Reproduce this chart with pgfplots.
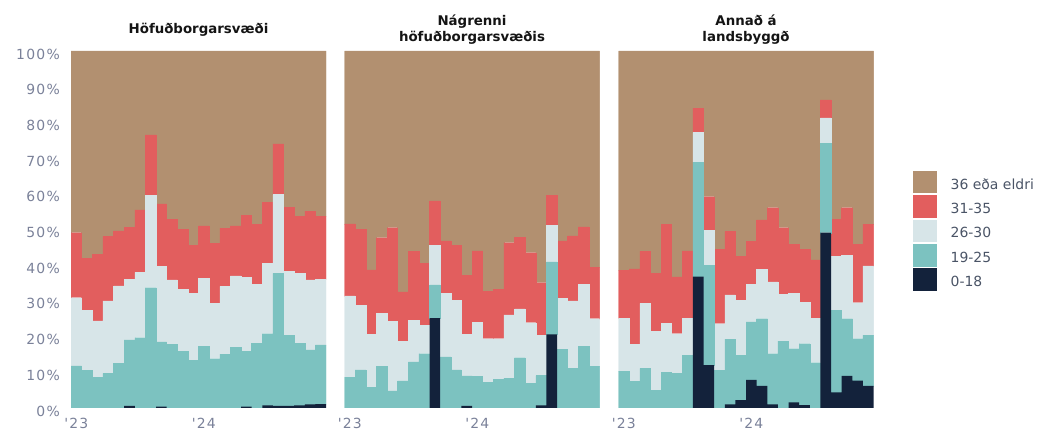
\documentclass[border=0pt]{standalone}
\usepackage{pgfplots}
\pgfplotsset{compat=1.18}
\usepackage{pgfplotstable}
\usepackage{fontspec}
\newfontfamily\dv{DejaVu Sans}
\newfontfamily\dvt{DejaVu Sans}[LetterSpace=9]
\definecolor{cBrown}{HTML}{B29070}
\definecolor{cRed}{HTML}{E25E5E}
\definecolor{cLight}{HTML}{D7E5E8}
\definecolor{cTeal}{HTML}{7CC2C0}
\definecolor{cDark}{HTML}{13223B}
\definecolor{cTick}{HTML}{7A8199}
\definecolor{cLeg}{HTML}{4A5466}

% columns: month index, 0-18, 19-25, 26-30, 31-35, 36 eda eldri (percent)
\pgfplotstableread{
x d t l r b
1 0 11.8 19.1 18.2 50.9
2 0 10.6 16.7 14.7 58.0
3 0 8.6 15.8 18.7 56.9
4 0 9.7 20.3 18.0 52.0
5 0 12.6 21.6 15.4 50.4
6 0.6 18.5 16.9 14.6 49.4
7 0 19.7 18.3 17.5 44.5
8 0 33.7 25.8 17.0 23.5
9 0.4 18.1 21.1 17.6 42.8
10 0 17.8 18.1 16.9 47.2
11 0 15.9 17.3 16.8 50.0
12 0 13.4 18.8 13.3 54.5
13 0 17.3 19.1 14.6 49.0
14 0 13.8 15.5 16.9 53.8
15 0 15.1 19.0 16.3 49.6
16 0 17.0 20.0 14.0 49.0
17 0.4 15.5 20.7 17.3 46.1
18 0 18.2 16.4 16.8 48.6
19 0.7 20.1 19.8 17.1 42.3
20 0.6 37.1 22.1 14.2 26.0
21 0.6 19.8 17.8 18.0 43.8
22 0.7 17.4 19.6 16.0 46.3
23 1.0 15.3 19.6 19.2 44.9
24 1.1 16.6 18.4 17.5 46.4
}\tabA

\pgfplotstableread{
x d t l r b
1 0 8.6 22.8 20.2 48.4
2 0 10.7 18.1 21.3 49.9
3 0 5.7 15.0 18.0 61.3
4 0 11.6 14.9 21.2 52.3
5 0 4.8 19.4 26.3 49.5
6 0 7.6 11.0 13.9 67.5
7 0 12.9 11.6 19.4 56.1
8 0 15.2 7.9 17.4 59.5
9 25.2 9.3 11.1 12.4 42.0
10 0 14.3 17.8 14.7 53.2
11 0 10.7 19.5 15.4 54.4
12 0.6 8.4 11.7 16.4 62.9
13 0 8.8 15.2 20.0 56.0
14 0 7.2 12.2 13.3 67.3
15 0 8.0 11.4 13.9 66.7
16 0 8.4 17.7 20.2 53.7
17 0 14.1 13.7 20.0 52.2
18 0 7.0 16.9 19.6 56.5
19 0.7 8.4 11.3 14.7 64.9
20 20.6 20.3 10.3 8.3 40.5
21 0 16.4 14.3 16.1 53.2
22 0 11.2 18.8 18.2 51.8
23 0 17.3 17.4 16.0 49.3
24 0 11.7 13.3 14.4 60.6
}\tabB

\pgfplotstableread{
x d t l r b
1 0 10.3 14.9 13.3 61.5
2 0 7.4 10.5 21.1 61.0
3 0 11.1 18.2 14.6 56.1
4 0 5.0 16.5 16.3 62.2
5 0 10.0 13.8 27.7 48.5
6 0 9.7 11.1 15.9 63.3
7 0 14.8 10.4 18.8 56.0
8 36.8 32.0 8.4 6.8 16.0
9 12.0 28.0 9.8 9.4 40.8
10 0 10.5 13.1 20.8 55.6
11 1.0 18.3 12.4 17.7 50.6
12 2.2 12.6 15.3 12.4 57.5
13 7.9 16.2 10.5 12.1 53.3
14 6.2 18.8 13.8 13.9 47.3
15 1.0 14.2 20.1 20.8 43.9
16 0 18.7 13.2 18.6 49.5
17 1.6 15.0 15.5 13.7 54.2
18 0.8 17.2 11.6 14.9 55.5
19 0 12.7 12.4 16.4 58.5
20 49.1 25.0 7.2 5.0 13.7
21 4.4 22.9 15.1 10.5 47.1
22 9.0 16.0 17.8 13.3 43.9
23 7.7 11.7 10.1 16.3 54.2
24 6.2 14.2 19.4 11.6 48.6
}\tabC

\pgfplotsset{
  panel/.style={
    scale only axis, width=255bp, height=357bp,
    anchor=south west,
    ymin=0, ymax=100, xmin=0.5, xmax=24.5,
    ybar stacked, bar width=1,
    axis line style={draw=none},
    major tick length=0pt, tick style={draw=none},
    xtick={1,13}, xticklabels={'23,'24},
    ytick={0,10,...,100},
    ticklabel style={font=\dvt\fontsize{14}{16}\selectfont, text=cTick},
    xticklabel style={anchor=north, inner sep=0pt, yshift=-10bp},
    yticklabel style={anchor=east, inner sep=0pt, xshift=-11bp, yshift=-3bp},
    title style={font=\dv\bfseries\fontsize{13.4}{15.5}\selectfont, text=black!92,
      align=center, anchor=center, at={(0.5,1)}, yshift=15.5bp},
    legend image code/.code={\path[#1,draw=white,line width=0.8bp] (0bp,-9.3bp) rectangle (25.4bp,14.3bp);},
  },
  sD/.style={fill=cDark, draw=none},
  sT/.style={fill=cTeal, draw=cTeal, line width=0.3bp},
  sL/.style={fill=cLight, draw=cLight, line width=0.3bp},
  sR/.style={fill=cRed, draw=cRed, line width=0.3bp},
  sB/.style={fill=cBrown, draw=cBrown, line width=0.3bp},
}

\begin{document}
\begin{tikzpicture}
\useasboundingbox (0,0) rectangle (1041bp,432bp);

\begin{axis}[panel, at={(71bp,24bp)},
  yticklabels={0\%,10\%,20\%,30\%,40\%,50\%,60\%,70\%,80\%,90\%,100\%},
  title={Höfuðborgarsvæði}]
\addplot[sD] table[x=x,y=d]{\tabA};
\addplot[sT] table[x=x,y=t]{\tabA};
\addplot[sL] table[x=x,y=l]{\tabA};
\addplot[sR] table[x=x,y=r]{\tabA};
\addplot[sB] table[x=x,y=b]{\tabA};
\end{axis}

\begin{axis}[panel, at={(344.5bp,24bp)}, yticklabels={},
  title={Nágrenni\\höfuðborgarsvæðis}]
\addplot[sD] table[x=x,y=d]{\tabB};
\addplot[sT] table[x=x,y=t]{\tabB};
\addplot[sL] table[x=x,y=l]{\tabB};
\addplot[sR] table[x=x,y=r]{\tabB};
\addplot[sB] table[x=x,y=b]{\tabB};
\end{axis}

\begin{axis}[panel, at={(618.5bp,24bp)}, yticklabels={},
  title={Annað á\\landsbyggð},
  reverse legend, legend cell align=left,
  legend style={at={(1.149,0.667)}, anchor=north west, draw=none, fill=none,
    inner sep=0pt, outer sep=0pt, row sep=0pt,
    font=\dv\fontsize{14}{16}\selectfont, text=cLeg,
    /tikz/every odd column/.append style={column sep=11bp}}]
\addplot[sD] table[x=x,y=d]{\tabC};
\addplot[sT] table[x=x,y=t]{\tabC};
\addplot[sL] table[x=x,y=l]{\tabC};
\addplot[sR] table[x=x,y=r]{\tabC};
\addplot[sB] table[x=x,y=b]{\tabC};
\legend{0-18,19-25,26-30,31-35,36 eða eldri}
\end{axis}
\end{tikzpicture}
\end{document}
